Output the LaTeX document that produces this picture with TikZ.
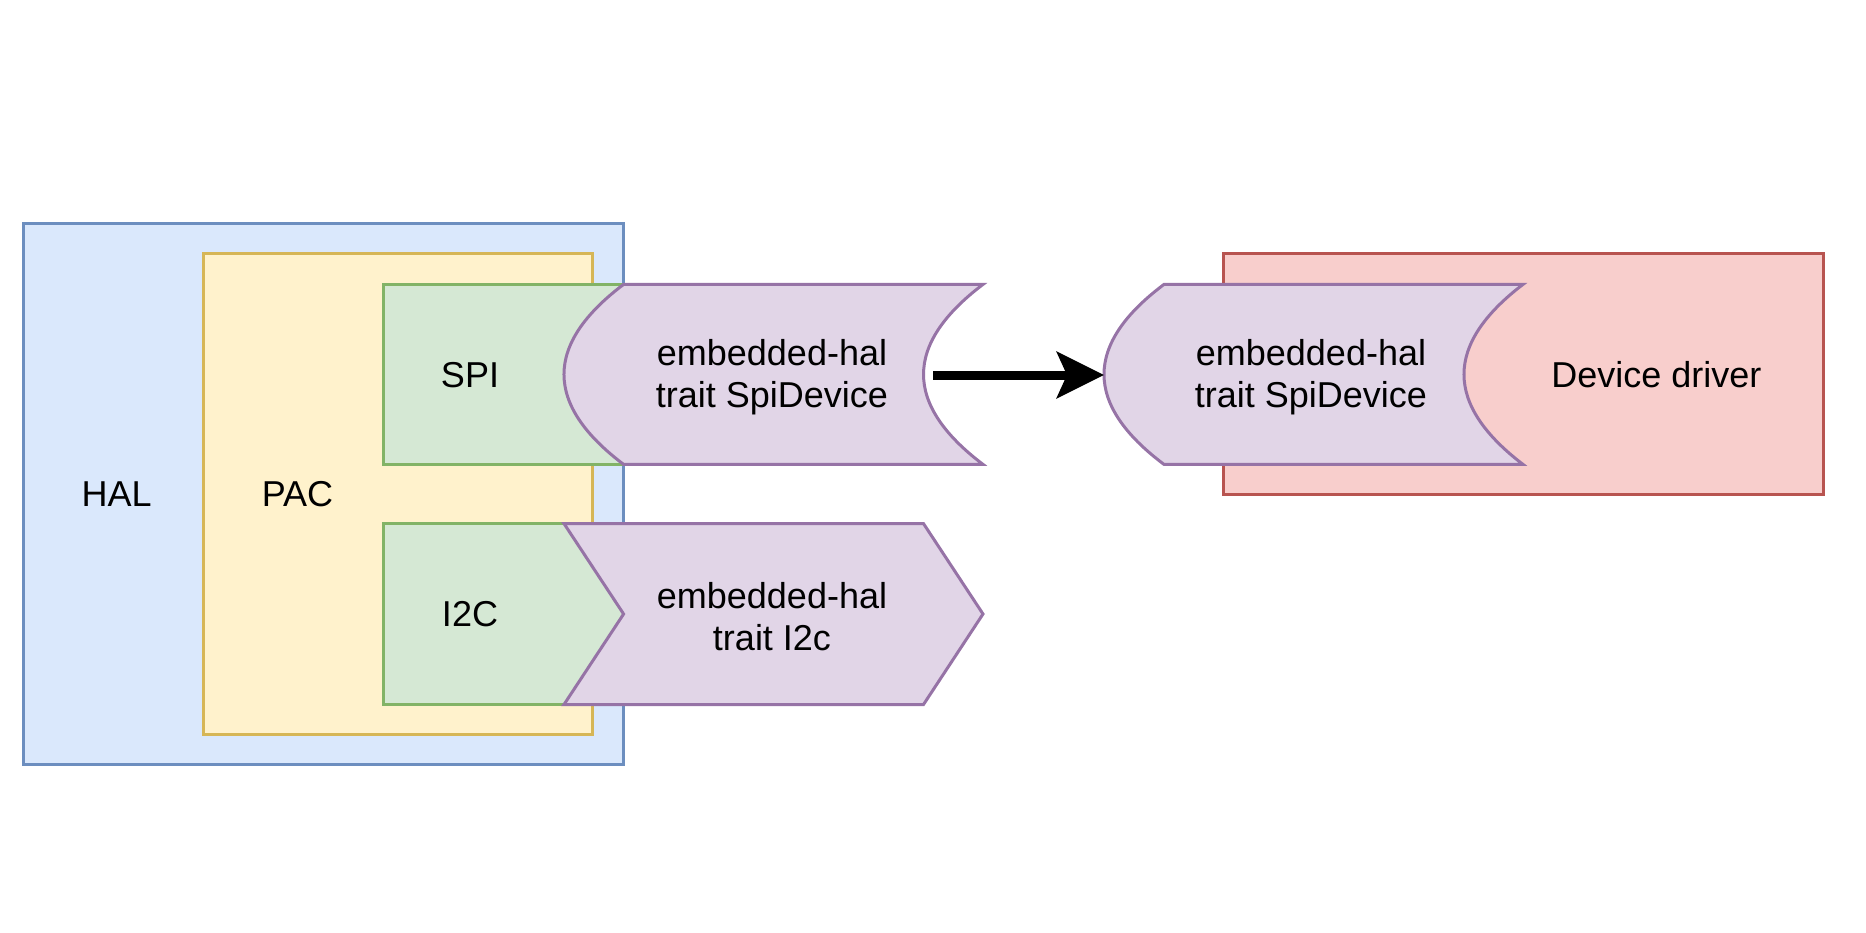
\documentclass[tikz,border=0pt]{standalone}
\usepackage{fontspec}
\setmainfont{Liberation Sans}
\usetikzlibrary{arrows.meta}
\definecolor{bluefill}{HTML}{DAE8FC}\definecolor{bluedraw}{HTML}{6C8EBF}
\definecolor{yelfill}{HTML}{FFF2CC}\definecolor{yeldraw}{HTML}{D6B656}
\definecolor{grnfill}{HTML}{D5E8D4}\definecolor{grndraw}{HTML}{82B366}
\definecolor{purfill}{HTML}{E1D5E7}\definecolor{purdraw}{HTML}{9673A6}
\definecolor{redfill}{HTML}{F8CECC}\definecolor{reddraw}{HTML}{B85450}
\begin{document}
\begin{tikzpicture}[x=1pt,y=-1pt,
  box/.style={line width=3pt},
  halbox/.style={box,fill=bluefill,draw=bluedraw},
  pacbox/.style={box,fill=yelfill,draw=yeldraw},
  perbox/.style={box,fill=grnfill,draw=grndraw},
  traitbox/.style={box,fill=purfill,draw=purdraw,line join=miter},
  drvbox/.style={box,fill=redfill,draw=reddraw},
  lbl/.style={font=\fontsize{36}{42}\selectfont,align=center,inner sep=0pt},
  arr/.style={line width=9pt,-{Stealth[length=47pt,width=46pt,inset=10pt]}}]
\useasboundingbox (0,0) rectangle (1866,933);
% HAL / PAC / peripherals
\draw[halbox] (23.8,223.7) rectangle (623.6,764);
\draw[pacbox] (203.5,253.5) rectangle (592.6,734);
\draw[perbox] (383,284.4) rectangle (623.6,464);
\draw[perbox] (383,523.6) rectangle (623.6,704.5);
% device driver
\draw[drvbox] (1223,253.5) rectangle (1823,494);
% SPI trait (left)
\draw[traitbox] (623.6,284.4) -- (983,284.4)
  .. controls (903.7,344.4) and (903.7,404.4) .. (983,464.4)
  -- (623.6,464.4)
  .. controls (544.1,404.4) and (544.1,344.4) .. (623.6,284.4) -- cycle;
% I2C trait
\draw[traitbox] (564,523.6) -- (923.5,523.6) -- (983,614) -- (923.5,704.5)
  -- (564,704.5) -- (623.6,614) -- cycle;
% SPI trait (right)
\draw[traitbox] (1164,284.4) -- (1523,284.4)
  .. controls (1444.3,344.4) and (1444.3,404.4) .. (1523,464.4)
  -- (1164,464.4)
  .. controls (1084,404.4) and (1084,344.4) .. (1164,284.4) -- cycle;
% labels
\node[lbl] (hal) at (116.6,494) {HAL};
\node[lbl] (pac) at (297.5,494) {PAC};
\node[lbl] (spi) at (470,375) {SPI};
\node[lbl] (i2c) at (470,614) {I2C};
\node[lbl] (spitrait) at (772,377.5) {embedded-hal\\trait SpiDevice};
\node[lbl] (i2ctrait) at (772,616.5) {embedded-hal\\trait I2c};
\node[lbl] (devtrait) at (1311,377.5) {embedded-hal\\trait SpiDevice};
\node[lbl] (drv) at (1656.5,375) {Device driver};
% connector
\coordinate (spiout) at (923.5,375);
\coordinate (spiin) at (1104,375);
\draw[arr,shorten <=9.5pt] (spiout) -- (spiin);
\end{tikzpicture}
\end{document}
